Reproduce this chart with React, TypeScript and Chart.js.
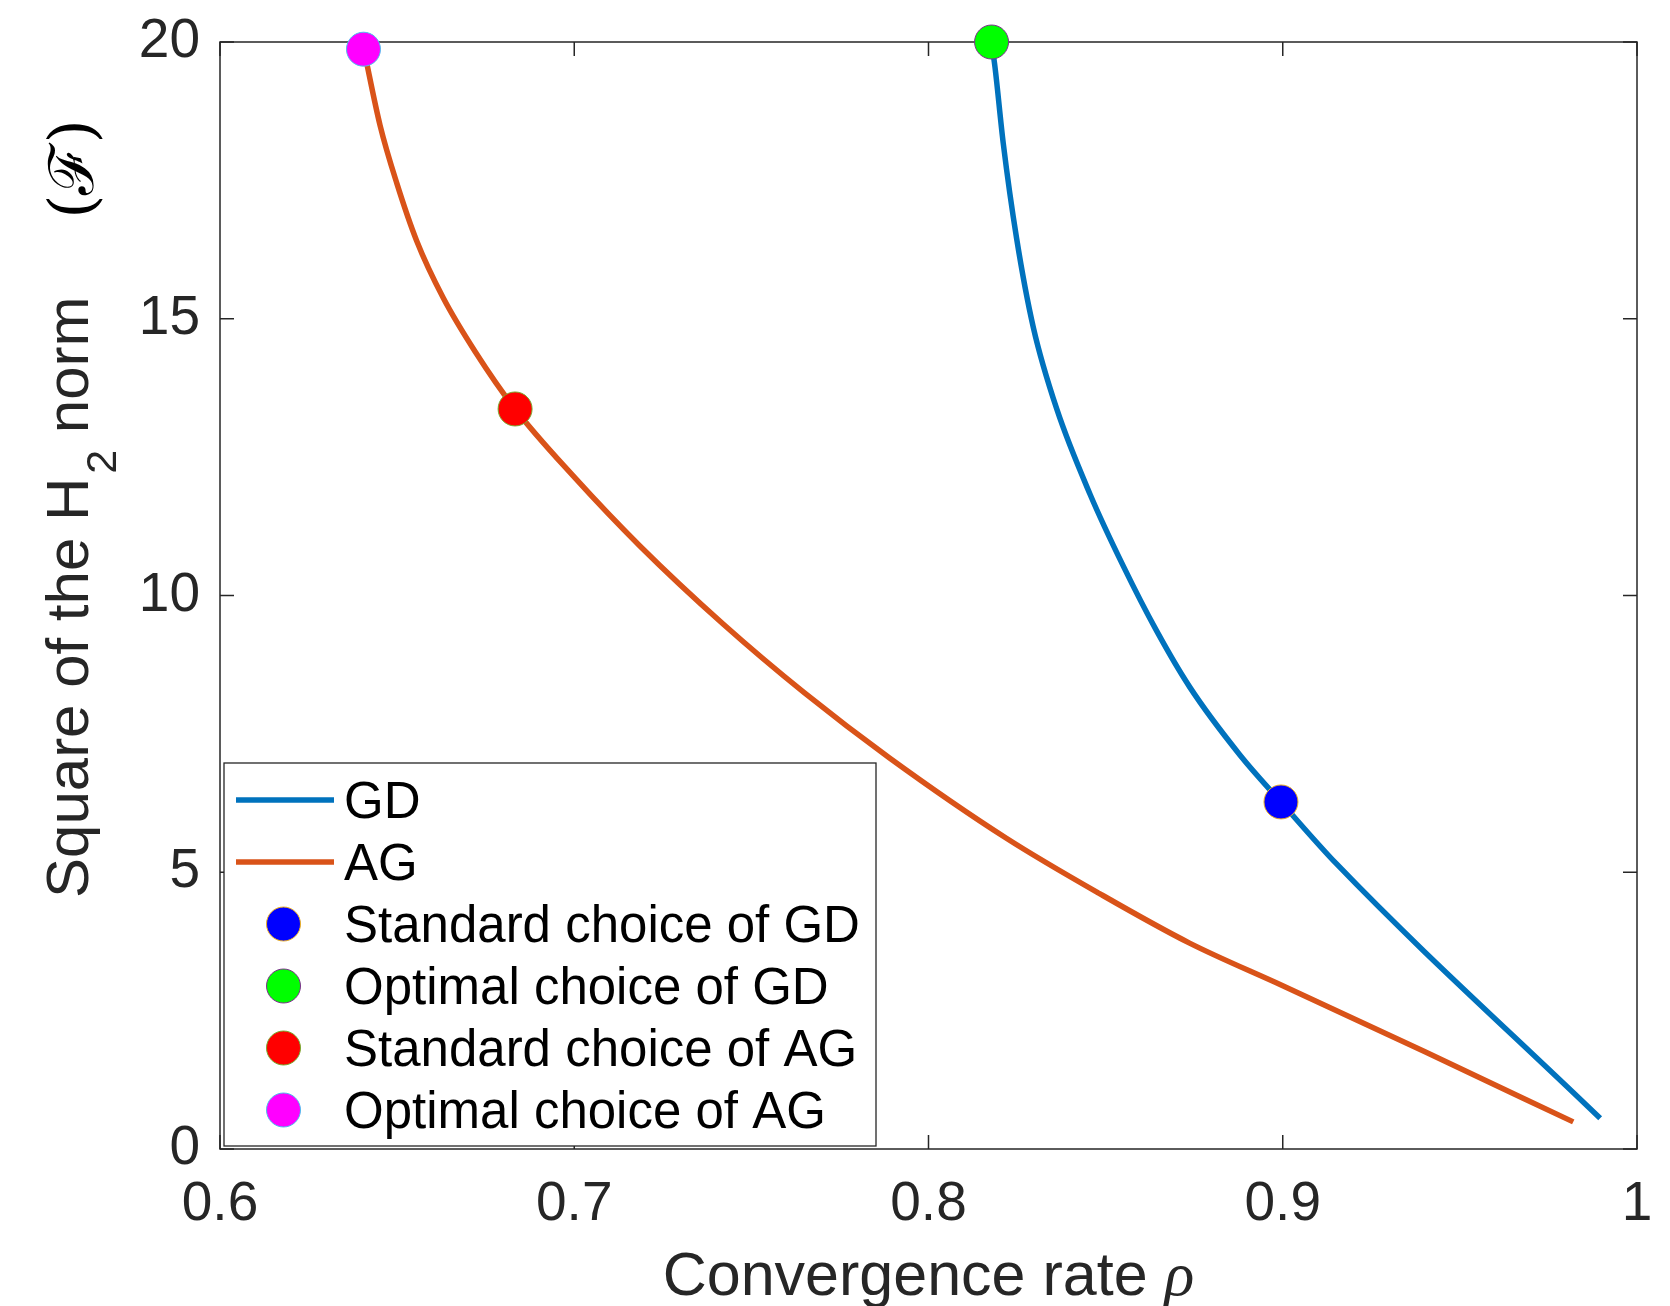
import React, { useEffect, useRef } from 'react';
import { Chart, registerables } from 'chart.js';

Chart.register(...registerables);

// ---------- data ----------
const xTickValues = [0.6, 0.7, 0.8, 0.9, 1.0];
const xTickLabels = ['0.6', '0.7', '0.8', '0.9', '1'];
const yTickValues = [0, 5, 10, 15, 20];
const yTickLabels = ['0', '5', '10', '15', '20'];

const seriesLabels = ['GD', 'AG'];

const gdRho = [0.8178, 0.8188, 0.8211, 0.8249, 0.8296, 0.8362, 0.8456, 0.855, 0.8644, 0.8738, 0.8879, 0.8995, 0.9152, 0.9896];
const gdH2 = [20.0, 19.53, 18.17, 16.44, 14.84, 13.37, 11.83, 10.53, 9.36, 8.34, 7.12, 6.27, 5.15, 0.555];

const agRho = [0.6406, 0.6452, 0.6499, 0.6555, 0.663, 0.672, 0.6833, 0.6997, 0.7186, 0.7421, 0.765, 0.7889, 0.8221, 0.8484, 0.8737, 0.9, 0.94, 0.982];
const agH2 = [19.87, 18.49, 17.45, 16.41, 15.38, 14.41, 13.37, 12.16, 10.89, 9.48, 8.24, 7.07, 5.61, 4.61, 3.72, 2.95, 1.76, 0.49];

const markerLabels = ['Standard choice of GD', 'Optimal choice of GD', 'Standard choice of AG', 'Optimal choice of AG'];
const markerRho = [0.8995, 0.8178, 0.6833, 0.6405];
const markerH2 = [6.27, 20.0, 13.37, 19.87];

// ---------- styles ----------
const lineColors = ['#0072BD', '#D95319'];
const markerFill = ['#0000FF', '#00FF00', '#FF0000', '#FF00FF'];
const markerEdge = ['#EDB120', '#7E2F8E', '#77AC30', '#4DBEEE'];
const AXIS_COLOR = '#262626';
const SANS = "'Liberation Sans', Arial, Helvetica, sans-serif";
const TICK_LEN = 14;

const framePlugin = {
  id: 'matlabFrame',
  beforeDatasetsDraw(chart: any) {
    const { ctx, chartArea: ca, scales } = chart;
    const xs = scales.x;
    const ys = scales.y;
    ctx.save();
    ctx.strokeStyle = AXIS_COLOR;
    ctx.lineWidth = 1.5;
    ctx.strokeRect(ca.left, ca.top, ca.right - ca.left, ca.bottom - ca.top);
    ctx.beginPath();
    xTickValues.forEach((v) => {
      const px = xs.getPixelForValue(v);
      ctx.moveTo(px, ca.bottom);
      ctx.lineTo(px, ca.bottom - TICK_LEN);
      ctx.moveTo(px, ca.top);
      ctx.lineTo(px, ca.top + TICK_LEN);
    });
    yTickValues.forEach((v) => {
      const py = ys.getPixelForValue(v);
      ctx.moveTo(ca.left, py);
      ctx.lineTo(ca.left + TICK_LEN, py);
      ctx.moveTo(ca.right, py);
      ctx.lineTo(ca.right - TICK_LEN, py);
    });
    ctx.stroke();
    ctx.restore();
  },
  afterDatasetsDraw(chart: any) {
    const { ctx, chartArea: ca } = chart;
    const L = ca.left + 4;
    const B = ca.bottom - 3;
    const W = 652;
    const H = 383;
    const T = B - H;
    ctx.save();
    ctx.fillStyle = '#ffffff';
    ctx.fillRect(L, T, W, H);
    ctx.strokeStyle = AXIS_COLOR;
    ctx.lineWidth = 1.3;
    ctx.strokeRect(L, T, W, H);
    chart.data.datasets.forEach((ds: any, i: number) => {
      const cy = T + 37 + i * 62;
      if (ds.showLine) {
        ctx.strokeStyle = ds.borderColor;
        ctx.lineWidth = 5.5;
        ctx.beginPath();
        ctx.moveTo(L + 12, cy);
        ctx.lineTo(L + 110, cy);
        ctx.stroke();
      } else {
        ctx.beginPath();
        ctx.arc(L + 59.5, cy, ds.pointRadius, 0, Math.PI * 2);
        ctx.fillStyle = ds.pointBackgroundColor;
        ctx.fill();
        ctx.lineWidth = 1;
        ctx.strokeStyle = ds.pointBorderColor;
        ctx.stroke();
      }
      ctx.fillStyle = '#000000';
      ctx.font = `51px ${SANS}`;
      ctx.textAlign = 'left';
      ctx.textBaseline = 'alphabetic';
      ctx.fillText(ds.label, L + 120, cy + 18);
    });
    ctx.restore();
  },
  afterDraw(chart: any) {
    const { ctx, chartArea: ca } = chart;
    ctx.save();
    ctx.fillStyle = AXIS_COLOR;
    ctx.textBaseline = 'alphabetic';
    // x title
    const mainX = 'Convergence rate ';
    const serifIt = `italic 62px 'Liberation Serif', 'Times New Roman', serif`;
    ctx.font = `61px ${SANS}`;
    const w1 = ctx.measureText(mainX).width;
    ctx.font = serifIt;
    const w2 = ctx.measureText('ρ').width;
    const cx = (ca.left + ca.right) / 2;
    const x0 = cx - (w1 + w2) / 2;
    const by = ca.bottom + 146;
    ctx.font = `61px ${SANS}`;
    ctx.textAlign = 'left';
    ctx.fillText(mainX, x0, by);
    ctx.font = serifIt;
    ctx.fillText('ρ', x0 + w1, by);

    // y title (rotated)
    const startY = ca.bottom - 251;
    ctx.translate(ca.left - 132, startY);
    ctx.rotate(-Math.PI / 2);
    ctx.font = `60px ${SANS}`;
    const p1 = 'Square of the H';
    const a = ctx.measureText(p1).width;
    ctx.fillText(p1, 0, 0);
    ctx.font = `43px ${SANS}`;
    const b = ctx.measureText('2').width;
    ctx.fillText('2', a + 4, 28);
    ctx.font = `60px ${SANS}`;
    ctx.fillText(' norm', a + 4 + b, 0);
    ctx.fillStyle = '#000000';
    ctx.font = `62px 'DejaVu Serif', serif`;
    ctx.textAlign = 'center';
    ctx.fillText('(ℱ)', startY - (ca.top + 127), 5);
    ctx.restore();
  },
};

export default function App() {
  const ref = useRef<HTMLCanvasElement>(null);
  useEffect(() => {
    document.body.style.margin = '0';
    document.body.style.overflow = 'hidden';
    const lineSets = [
      { rho: gdRho, h: gdH2 },
      { rho: agRho, h: agH2 },
    ].map((s, i) => ({
      label: seriesLabels[i],
      data: s.rho.map((x, k) => ({ x, y: s.h[k] })),
      showLine: true,
      borderColor: lineColors[i],
      backgroundColor: lineColors[i],
      borderWidth: 5.5,
      pointRadius: 0,
      pointHoverRadius: 0,
      cubicInterpolationMode: 'monotone' as const,
      order: 2,
    }));
    const markerSets = markerLabels.map((lab, i) => ({
      label: lab,
      data: [{ x: markerRho[i], y: markerH2[i] }],
      showLine: false,
      pointRadius: 17,
      pointHoverRadius: 17,
      pointBackgroundColor: markerFill[i],
      pointBorderColor: markerEdge[i],
      pointBorderWidth: 1,
      clip: false as const,
      order: 1,
    }));
    const chart = new Chart(ref.current as HTMLCanvasElement, {
      type: 'scatter',
      data: { datasets: [...lineSets, ...markerSets] as any },
      options: {
        responsive: false,
        devicePixelRatio: 1,
        animation: false,
        layout: { padding: { top: 42, right: 33, left: 0, bottom: 0 } },
        plugins: { legend: { display: false }, tooltip: { enabled: false } },
        scales: {
          x: {
            type: 'linear',
            min: 0.6,
            max: 1,
            afterBuildTicks: (s: any) => {
              s.ticks = xTickValues.map((v) => ({ value: v }));
            },
            afterFit: (s: any) => {
              s.height = 157;
            },
            ticks: {
              callback: (_v: any, i: number) => xTickLabels[i],
              font: { family: SANS, size: 55, lineHeight: 1.45 },
              color: AXIS_COLOR,
              padding: 16,
              maxRotation: 0,
              autoSkip: false,
            },
            grid: { display: false, drawTicks: false },
            border: { display: false },
          },
          y: {
            type: 'linear',
            min: 0,
            max: 20,
            afterBuildTicks: (s: any) => {
              s.ticks = yTickValues.map((v) => ({ value: v }));
            },
            afterFit: (s: any) => {
              s.width = 220;
            },
            ticks: {
              callback: (_v: any, i: number) => yTickLabels[i],
              font: { family: SANS, size: 55, lineHeight: 0.6 },
              color: AXIS_COLOR,
              padding: 20,
              autoSkip: false,
            },
            grid: { display: false, drawTicks: false },
            border: { display: false },
          },
        },
      },
      plugins: [framePlugin],
    });
    return () => chart.destroy();
  }, []);
  return (
    <div style={{ width: 1670, height: 1306 }}>
      <canvas ref={ref} width={1670} height={1306} style={{ display: 'block', width: 1670, height: 1306 }} />
    </div>
  );
}
